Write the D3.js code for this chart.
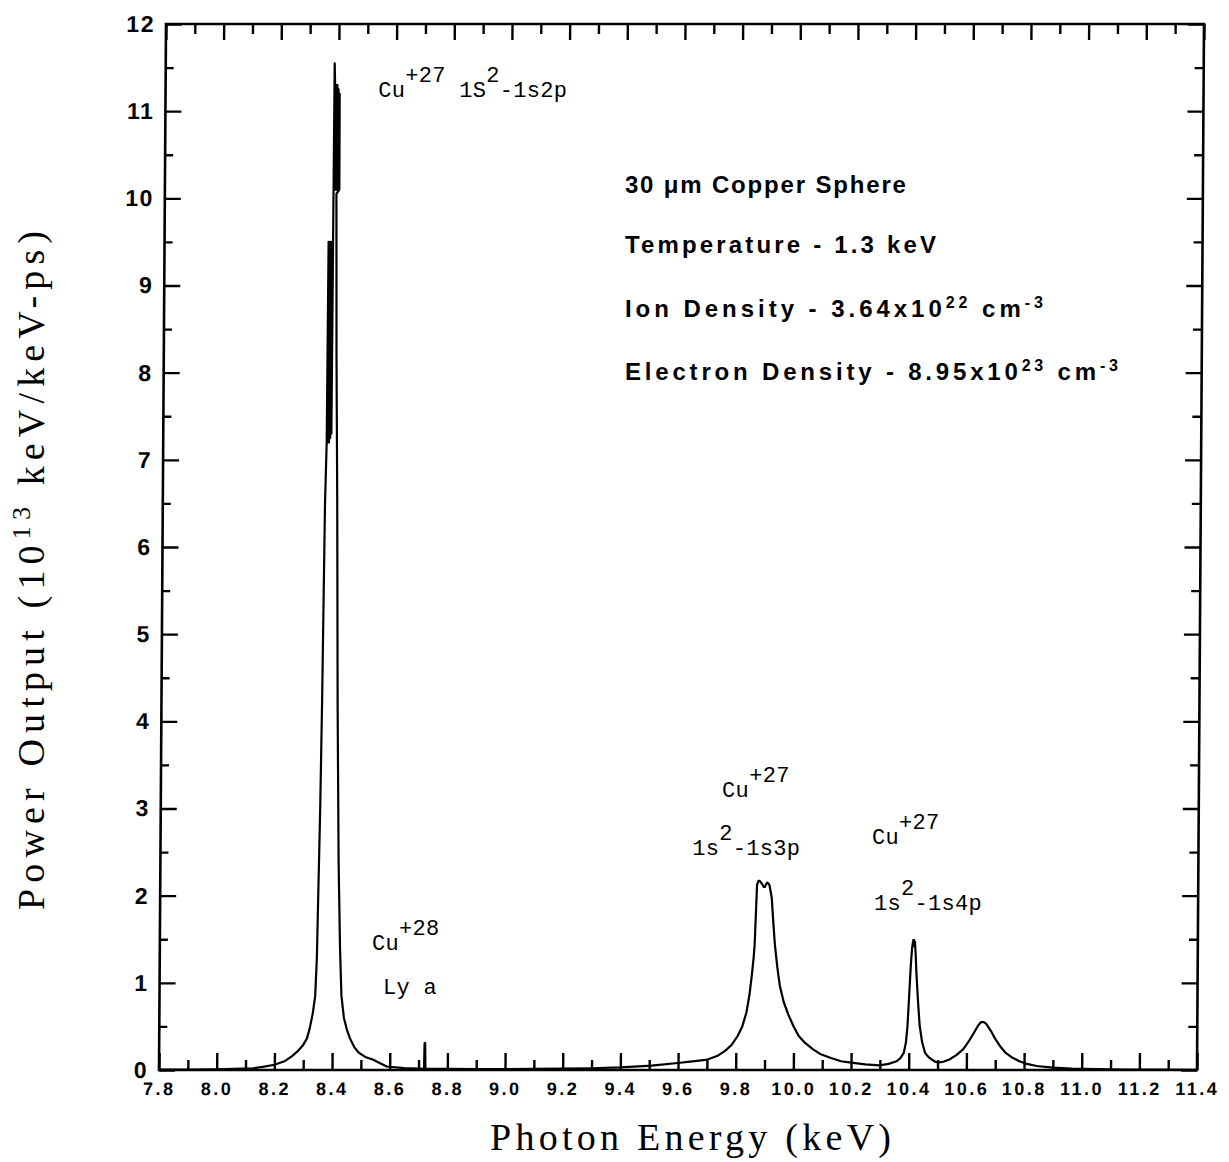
<!DOCTYPE html>
<html><head><meta charset="utf-8">
<script src="https://cdn.jsdelivr.net/npm/d3@7"></script>
<style>body{margin:0;background:#fff}</style>
</head><body>
<svg id="chart" width="1229" height="1162"></svg>
<script>
// ---- data ----
const energy = [
 7.80,7.90,8.00,8.06,8.126,8.16,8.20,8.235,8.261,8.282,8.298,8.312,8.322,8.332,8.340,8.345,8.348,8.353,8.357,8.3626,
 8.367,8.369,8.371,8.373,8.375,8.377,8.379,8.381,8.383,8.3845,
 8.386,8.388,8.390,8.392,8.394,8.396,8.398,8.400,8.402,8.404,8.405,8.395,
 8.399,8.405,8.411,8.418,8.425,8.431,8.440,8.450,8.462,8.477,8.492,8.515,8.541,8.565,8.590,8.65,8.70,
 8.719,8.7205,8.7225,8.724,
 8.80,8.90,9.00,9.10,9.20,9.30,9.40,9.508,9.599,9.65,9.702,9.735,9.763,9.786,9.806,9.822,9.836,9.846,9.854,9.860,9.863,9.866,
 9.870,9.875,9.879,9.884,9.888,9.893,9.897,9.901,9.905,9.909,9.913,9.917,9.921,9.927,9.933,9.942,9.951,9.965,9.982,
 10.000,10.018,10.040,10.067,10.095,10.128,10.165,10.200,10.25,10.298,10.33,10.358,10.372,10.383,10.390,10.395,10.400,10.405,10.409,
 10.413,10.414,10.416,10.418,10.419,10.422,10.425,10.431,10.437,10.446,10.456,10.468,10.48,10.492,10.502,10.52,10.541,10.565,10.589,
 10.608,10.626,10.640,10.650,10.660,10.668,10.684,10.699,10.717,10.735,10.760,10.784,10.81,10.844,10.90,10.966,11.05,11.15,11.25,11.40
];
const power = [
 0.004,0.005,0.008,0.012,0.02,0.035,0.06,0.10,0.16,0.22,0.28,0.36,0.48,0.65,0.85,1.3,1.95,3.0,4.2,6.5,
 7.2,9.5,7.2,9.5,7.2,9.5,7.25,9.5,7.3,9.5,
 11.55,11.3,10.1,11.3,10.1,11.3,10.1,11.25,10.1,11.2,10.1,10.05,
 8.2,6.5,4.2,2.4,1.4,0.85,0.6,0.47,0.36,0.26,0.2,0.15,0.12,0.08,0.04,0.022,0.015,
 0.013,0.31,0.31,0.013,
 0.012,0.01,0.01,0.012,0.015,0.02,0.03,0.05,0.08,0.10,0.12,0.16,0.22,0.29,0.39,0.50,0.66,0.86,1.09,1.3,1.44,1.75,
 2.13,2.17,2.17,2.15,2.13,2.10,2.10,2.13,2.15,2.14,2.12,2.05,1.98,1.7,1.44,1.18,0.97,0.78,0.63,
 0.50,0.39,0.31,0.24,0.18,0.14,0.10,0.085,0.065,0.054,0.07,0.10,0.14,0.2,0.32,0.51,0.85,1.2,1.40,
 1.49,1.42,1.49,1.43,1.47,1.3,1.09,0.78,0.51,0.32,0.2,0.15,0.12,0.095,0.085,0.095,0.12,0.17,0.24,
 0.33,0.43,0.51,0.55,0.55,0.53,0.45,0.36,0.27,0.2,0.14,0.10,0.07,0.046,0.028,0.015,0.01,0.006,0.004,0.003
];
const xMajorTicks = [7.8,8.0,8.2,8.4,8.6,8.8,9.0,9.2,9.4,9.6,9.8,10.0,10.2,10.4,10.6,10.8,11.0,11.2,11.4];
const xMinorTicks = [7.9,8.1,8.3,8.5,8.7,8.9,9.1,9.3,9.5,9.7,9.9,10.1,10.3,10.5,10.7,10.9,11.1,11.3];
const yMajorTicks = [0,1,2,3,4,5,6,7,8,9,10,11,12];
const yMinorTicks = [0.5,1.5,2.5,3.5,4.5,5.5,6.5,7.5,8.5,9.5,10.5,11.5];
const xTitleParts = [{t:"Photon Energy (keV)"}];
const yTitleParts = [{t:"Power Output (10"},{t:"13",sup:true},{t:" keV/keV-ps)"}];

// line annotations: text parts + anchor in data space (keV, power)
const lineLabels = [
 {parts:[{t:"Cu"},{t:"+27",sup:true},{t:" 1S"},{t:"2",sup:true},{t:"-1s2p"}], e:8.56, p:11.16},
 {parts:[{t:"Cu"},{t:"+28",sup:true}], e:8.539, p:1.376},
 {parts:[{t:"Ly a"}], e:8.577, p:0.872},
 {parts:[{t:"Cu"},{t:"+27",sup:true}], e:9.753, p:3.131},
 {parts:[{t:"1s"},{t:"2",sup:true},{t:"-1s3p"}], e:9.649, p:2.466},
 {parts:[{t:"Cu"},{t:"+27",sup:true}], e:10.273, p:2.592},
 {parts:[{t:"1s"},{t:"2",sup:true},{t:"-1s4p"}], e:10.280, p:1.835}
];
const infoLines = [
 {parts:[{t:"30 μm Copper Sphere"}], e:9.416, p:10.057},
 {parts:[{t:"Temperature - 1.3 keV"}], e:9.416, p:9.369},
 {parts:[{t:"Ion Density - 3.64x10"},{t:"22",sup:true},{t:" cm"},{t:"-3",sup:true}], e:9.416, p:8.635},
 {parts:[{t:"Electron Density - 8.95x10"},{t:"23",sup:true},{t:" cm"},{t:"-3",sup:true}], e:9.416, p:7.913}
];

// ---- layout ----
const W=1229,H=1162,L=159,R=1197,T=24,B=1070;
const infoWidths = [283, 313, 420, 495];
const x = d3.scaleLinear().domain([7.8,11.4]).range([L,R]);
const y = d3.scaleLinear().domain([0,12]).range([B,T]);
const svg = d3.select("#chart");
svg.append("rect").attr("width",W).attr("height",H).attr("fill","#fff");
const g = svg.append("g").attr("transform",`translate(0,${B}) skewX(-0.384) translate(0,${-B})`);

g.append("rect").attr("x",L).attr("y",T).attr("width",R-L).attr("height",B-T)
 .attr("fill","none").attr("stroke","#000").attr("stroke-width",2.6);

function styleAxis(sel){
  sel.select(".domain").remove();
  sel.selectAll(".tick line").attr("stroke","#000").attr("stroke-width",2.4);
  sel.selectAll(".tick text").attr("fill","#000");
}
const f1 = d3.format(".1f");
g.append("g").attr("transform",`translate(0,${B})`)
 .call(d3.axisBottom(x).tickValues(xMajorTicks).tickSize(-17).tickPadding(12).tickFormat(f1))
 .call(styleAxis)
 .attr("font-family","'Liberation Sans', Arial, sans-serif").attr("font-size",18).attr("font-weight","bold")
 .selectAll(".tick text").attr("letter-spacing","2.5px");
g.append("g").attr("transform",`translate(0,${B})`)
 .call(d3.axisBottom(x).tickValues(xMinorTicks).tickSize(-10).tickFormat(""))
 .call(styleAxis);
g.append("g").attr("transform",`translate(0,${T})`)
 .call(d3.axisTop(x).tickValues(xMajorTicks).tickSize(-16).tickFormat(""))
 .call(styleAxis);
g.append("g").attr("transform",`translate(0,${T})`)
 .call(d3.axisTop(x).tickValues(xMinorTicks).tickSize(-10).tickFormat(""))
 .call(styleAxis);
g.append("g").attr("transform",`translate(${L},0)`)
 .call(d3.axisLeft(y).tickValues(yMajorTicks).tickSize(-16).tickPadding(11).tickFormat(d3.format("d")))
 .call(styleAxis)
 .attr("font-family","'Liberation Sans', Arial, sans-serif").attr("font-size",23).attr("font-weight","bold")
 .selectAll(".tick text").attr("letter-spacing","1.5px");
g.append("g").attr("transform",`translate(${L},0)`)
 .call(d3.axisLeft(y).tickValues(yMinorTicks).tickSize(-8).tickFormat(""))
 .call(styleAxis);
g.append("g").attr("transform",`translate(${R},0)`)
 .call(d3.axisRight(y).tickValues(yMajorTicks).tickSize(-16).tickFormat(""))
 .call(styleAxis);
g.append("g").attr("transform",`translate(${R},0)`)
 .call(d3.axisRight(y).tickValues(yMinorTicks).tickSize(-9).tickFormat(""))
 .call(styleAxis);

// spectrum
const idx = d3.range(energy.length);
g.append("path").datum(idx)
 .attr("d", d3.line().x(i=>x(energy[i])).y(i=>y(power[i])))
 .attr("fill","none").attr("stroke","#000").attr("stroke-width",2.2)
 .attr("stroke-linejoin","round");

// mixed text helper
function mixedText(parent, parts, px, py, opt){
  const t = parent.append("text").attr("x",px).attr("y",py)
   .attr("font-family",opt.family).attr("font-size",opt.size)
   .attr("font-weight",opt.weight||"normal").attr("fill","#000")
   .attr("letter-spacing",(opt.ls||0)+"px");
  let raised = false;
  parts.forEach(pt=>{
    const s = t.append("tspan").text(pt.t);
    if(pt.sup && !raised){ s.attr("dy",-opt.raise); raised=true; }
    else if(!pt.sup && raised){ s.attr("dy",opt.raise); raised=false; }
    if(pt.sup && opt.supSize) s.attr("font-size",opt.supSize);
  });
  return t;
}
// stretch a text's letter spacing to reach a target width
function fitWidth(t, target, ls0){
  const n = t.text().length;
  const w = t.node().getComputedTextLength();
  const ls = ls0 + (target - w)/Math.max(1,n-1);
  t.attr("letter-spacing", ls+"px");
}
const mono = "'Liberation Mono','Courier New',monospace";
const serif = "'Liberation Serif','Times New Roman',serif";
lineLabels.forEach(lb=>{
  mixedText(svg, lb.parts, x(lb.e), y(lb.p), {family:mono, size:22, raise:15, ls:0.3});
});
infoLines.forEach((lb,i)=>{
  const t = mixedText(svg, lb.parts, x(lb.e), y(lb.p),
   {family:"'Liberation Sans', Arial, sans-serif", size:24, weight:"bold", raise:9, supSize:16, ls:2});
  fitWidth(t, infoWidths[i], 2);
});

// axis titles
const xt = mixedText(svg, xTitleParts, 490, 1150, {family:serif, size:38, ls:4});
fitWidth(xt, 405, 4);
const yt = svg.append("g").attr("transform","translate(44,910) rotate(-90)");
const ytt = mixedText(yt, yTitleParts, 0, 0, {family:serif, size:38, raise:14, supSize:26, ls:4});
fitWidth(ytt, 683, 4);
</script>
</body></html>
